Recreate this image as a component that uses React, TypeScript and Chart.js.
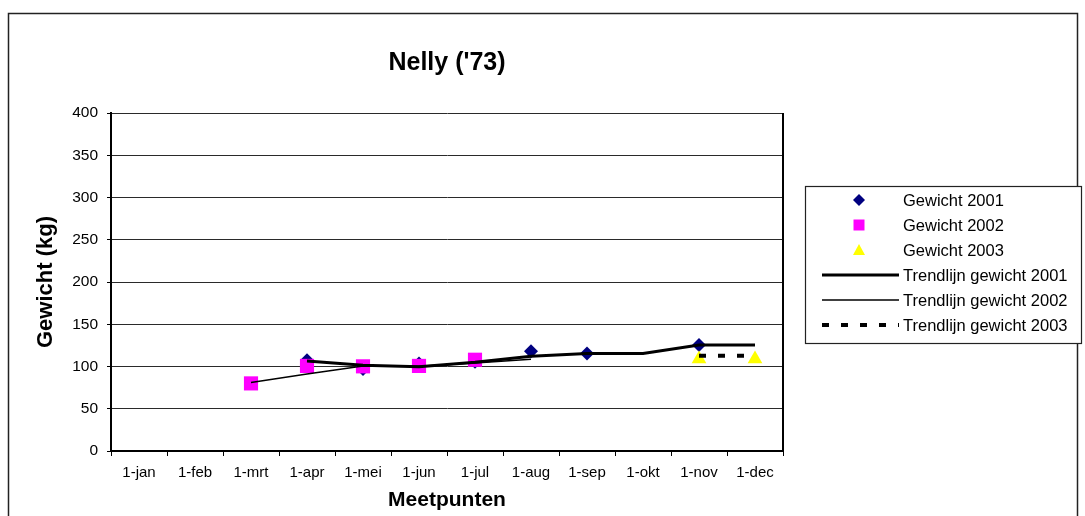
import React, { useEffect, useRef } from "react";
import { Chart, registerables } from "chart.js";

Chart.register(...registerables);

const FONT = "'Liberation Sans', Arial, sans-serif";

const categories = ["1-jan", "1-feb", "1-mrt", "1-apr", "1-mei", "1-jun", "1-jul", "1-aug", "1-sep", "1-okt", "1-nov", "1-dec"];

const gewicht2001 = [null, null, null, 107.5, 97, 103.5, 105.5, 118, 115.5, null, 125.3, null];
const gewicht2002 = [null, null, 80, 100.7, 100.2, 100.7, 108, null, null, null, null, null];
const gewicht2003 = [null, null, null, null, null, null, null, null, null, null, 109, 109];

const trend2001 = [null, null, null, 106.5, 101.5, 99.8, 105, 112, 115.5, 115.5, 125.3, 125.3];
const trend2002 = [null, null, 81, 91, 100.5, 100.2, 104, 108.5, null, null, null, null];
const trend2003 = [null, null, null, null, null, null, null, null, null, null, 112.7, 112.7];

const seriesLabels = [
  "Gewicht 2001",
  "Gewicht 2002",
  "Gewicht 2003",
  "Trendlijn gewicht 2001",
  "Trendlijn gewicht 2002",
  "Trendlijn gewicht 2003",
];

const yMin = 0;
const yMax = 400;
const yStep = 50;

const titleText = "Nelly ('73)";
const xTitleText = "Meetpunten";
const yTitleText = "Gewicht (kg)";

const NAVY = "#000080";
const MAGENTA = "#FF00FF";
const YELLOW = "#FFFF00";

const decorPlugin = {
  id: "decor",
  beforeDraw(chart: any) {
    const ctx = chart.ctx;
    ctx.save();
    ctx.fillStyle = "#ffffff";
    ctx.fillRect(0, 0, chart.width, chart.height);
    ctx.strokeStyle = "#222";
    ctx.lineWidth = 1.5;
    ctx.strokeRect(8.5, 13.5, 1069, 600);
    ctx.restore();
  },
  afterDraw(chart: any) {
    const ctx = chart.ctx;
    const area = chart.chartArea;
    ctx.save();
    // right border of plot area
    ctx.strokeStyle = "#000";
    ctx.lineWidth = 2;
    ctx.beginPath();
    ctx.moveTo(area.right, area.top);
    ctx.lineTo(area.right, area.bottom);
    ctx.stroke();

    // Title
    ctx.fillStyle = "#000";
    ctx.textAlign = "center";
    ctx.textBaseline = "middle";
    ctx.font = `bold 25px ${FONT}`;
    ctx.fillText(titleText, (area.left + area.right) / 2, 63);

    // X title
    ctx.font = `bold 21px ${FONT}`;
    ctx.fillText(xTitleText, (area.left + area.right) / 2, 500);

    // Y title
    ctx.save();
    ctx.translate(46, (area.top + area.bottom) / 2);
    ctx.rotate(-Math.PI / 2);
    ctx.font = `bold 22px ${FONT}`;
    ctx.fillText(yTitleText, 0, 0);
    ctx.restore();

    // Legend
    const lx = 805, ly = 186, lw = 276, lh = 157;
    ctx.fillStyle = "#fff";
    ctx.fillRect(lx, ly, lw, lh);
    ctx.strokeStyle = "#222";
    ctx.lineWidth = 1.2;
    ctx.strokeRect(lx + 0.5, ly + 0.5, lw, lh);

    const ds = chart.data.datasets;
    const rowY = [200, 225, 250, 275, 300, 325];
    const markerX = 859;
    ctx.font = `16.5px ${FONT}`;
    ctx.textAlign = "left";
    ctx.textBaseline = "middle";
    for (let i = 0; i < ds.length; i++) {
      const d = ds[i];
      const y = rowY[i];
      if (i < 3) {
        ctx.fillStyle = d.backgroundColor;
        ctx.beginPath();
        if (d.pointStyle === "rectRot") {
          ctx.moveTo(markerX, y - 6);
          ctx.lineTo(markerX + 6, y);
          ctx.lineTo(markerX, y + 6);
          ctx.lineTo(markerX - 6, y);
        } else if (d.pointStyle === "rect") {
          ctx.rect(markerX - 5.5, y - 5.5, 11, 11);
        } else {
          ctx.moveTo(markerX, y - 6);
          ctx.lineTo(markerX + 6, y + 5);
          ctx.lineTo(markerX - 6, y + 5);
        }
        ctx.closePath();
        ctx.fill();
      } else {
        ctx.strokeStyle = "#000";
        ctx.lineWidth = d.borderWidth;
        ctx.setLineDash(d.borderDash || []);
        ctx.beginPath();
        ctx.moveTo(822, y);
        ctx.lineTo(899, y);
        ctx.stroke();
        ctx.setLineDash([]);
      }
      ctx.fillStyle = "#000";
      ctx.fillText(d.label, 903, y + 1);
    }
    ctx.restore();
  },
};

export default function App() {
  const canvasRef = useRef<HTMLCanvasElement | null>(null);

  useEffect(() => {
    const canvas = canvasRef.current;
    if (!canvas) return;
    const markerBase = { showLine: false, borderWidth: 0 };
    const chart = new Chart(canvas, {
      type: "line",
      data: {
        labels: categories,
        datasets: [
          {
            ...markerBase,
            label: seriesLabels[0],
            data: gewicht2001,
            pointStyle: "rectRot",
            pointRadius: 7,
            pointBorderWidth: 0,
            backgroundColor: NAVY,
            borderColor: NAVY,
            pointBackgroundColor: NAVY,
            order: 6,
          },
          {
            ...markerBase,
            label: seriesLabels[1],
            data: gewicht2002,
            pointStyle: "rect",
            pointRadius: 10,
            pointBorderWidth: 0,
            backgroundColor: MAGENTA,
            borderColor: MAGENTA,
            pointBackgroundColor: MAGENTA,
            order: 5,
          },
          {
            ...markerBase,
            label: seriesLabels[2],
            data: gewicht2003,
            pointStyle: "triangle",
            pointRadius: 8.5,
            pointBorderWidth: 0,
            backgroundColor: YELLOW,
            borderColor: YELLOW,
            pointBackgroundColor: YELLOW,
            order: 4,
          },
          {
            label: seriesLabels[3],
            data: trend2001,
            borderColor: "#000",
            backgroundColor: "#000",
            borderWidth: 3,
            pointRadius: 0,
            tension: 0,
            order: 3,
          },
          {
            label: seriesLabels[4],
            data: trend2002,
            borderColor: "#000",
            backgroundColor: "#000",
            borderWidth: 1.5,
            pointRadius: 0,
            tension: 0,
            order: 2,
          },
          {
            label: seriesLabels[5],
            data: trend2003,
            borderColor: "#000",
            backgroundColor: "#000",
            borderWidth: 4,
            borderDash: [7, 12],
            borderCapStyle: "butt",
            pointRadius: 0,
            tension: 0,
            order: 1,
          },
        ] as any,
      },
      options: {
        responsive: false,
        animation: false,
        devicePixelRatio: 1,
        layout: { padding: { left: 0, right: 1085 - 783, top: 113, bottom: 0 } },
        plugins: {
          legend: { display: false },
          title: { display: false },
          tooltip: { enabled: false },
        },
        scales: {
          x: {
            type: "category",
            offset: true,
            grid: {
              display: true,
              drawOnChartArea: false,
              drawTicks: true,
              tickLength: 5,
              tickColor: "#000",
              offset: true,
            },
            border: { display: true, color: "#000", width: 2 },
            ticks: {
              color: "#000",
              font: { family: FONT, size: 15 },
              padding: 8,
              maxRotation: 0,
              minRotation: 0,
              autoSkip: false,
            },
            afterFit: (s: any) => {
              s.height = 65;
            },
          },
          y: {
            min: yMin,
            max: yMax,
            ticks: {
              stepSize: yStep,
              color: "#000",
              font: { family: FONT, size: 15.5 },
              padding: 9,
            },
            grid: {
              color: "#2a2a2a",
              lineWidth: 1,
              drawTicks: true,
              tickLength: 4,
              tickColor: "#000",
            },
            border: { display: true, color: "#000", width: 2 },
            afterFit: (s: any) => {
              s.width = 111;
            },
          },
        },
      } as any,
      plugins: [decorPlugin],
    });
    return () => chart.destroy();
  }, []);

  return (
    <div style={{ position: "fixed", left: 0, top: 0, width: 1085, height: 516, background: "#fff" }}>
      <canvas ref={canvasRef} width={1085} height={516} />
    </div>
  );
}
